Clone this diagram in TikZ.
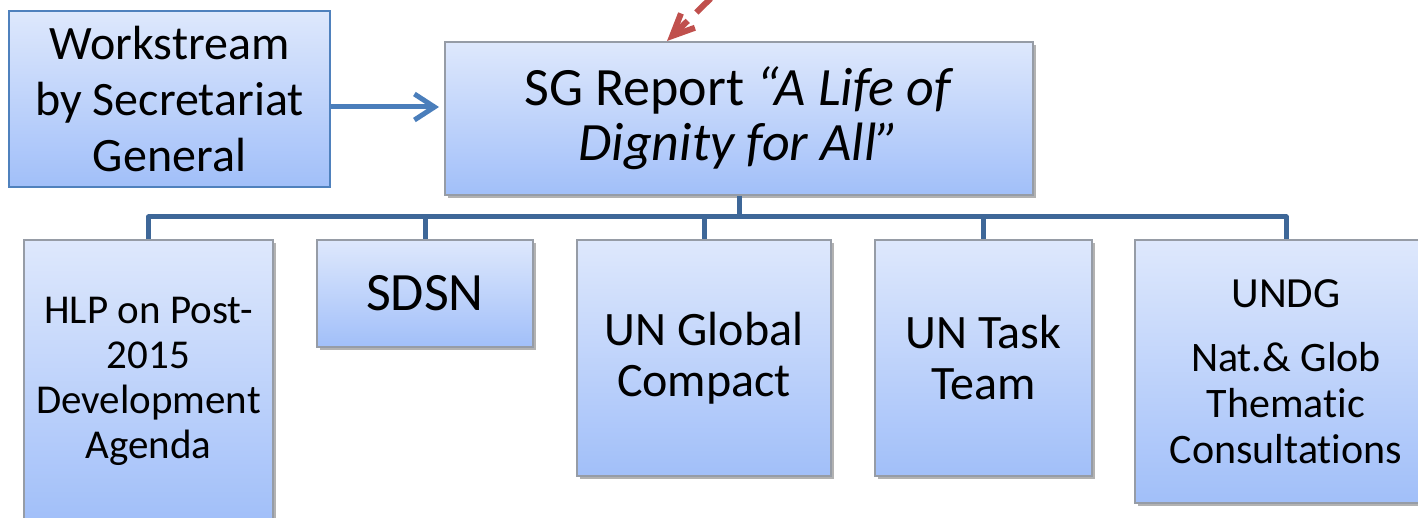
\documentclass[tikz,border=0pt]{standalone}
\usepackage{fontspec}
\setmainfont{Carlito}[Ligatures={NoCommon}]
\usetikzlibrary{arrows.meta,shadows}
\definecolor{boxtop}{RGB}{222,232,252}
\definecolor{boxbot}{RGB}{161,191,249}
\definecolor{boxedge}{RGB}{150,156,166}
\definecolor{wsedge}{RGB}{79,129,189}
\definecolor{treeblue}{RGB}{62,103,152}
\definecolor{arrowblue}{RGB}{74,126,187}
\definecolor{arrowred}{RGB}{192,80,77}
\newcommand\fsz[2]{\fontsize{#1}{#2}\selectfont}
\tikzset{
 box/.style={draw=boxedge, line width=1pt, top color=boxtop, bottom color=boxbot,
   align=center, inner sep=0pt,
   drop shadow={shadow xshift=1.5pt, shadow yshift=-1.5pt, opacity=0.3, fill=black}},
 wsbox/.style={draw=wsedge, line width=0.9pt, top color=boxtop, bottom color=boxbot,
   align=center, inner sep=0pt},
 tree/.style={draw=treeblue, line width=2.5pt, line join=round},
 feed/.style={draw=arrowblue, line width=2.5pt, -{Straight Barb[length=10pt,width=13pt]}},
 redarrow/.style={draw=arrowred, line width=3pt, dash pattern=on 10pt off 6pt, dash phase=8pt,
   -{Straight Barb[length=11pt,width=10pt]}},
}
\begin{document}
\begin{tikzpicture}[x=0.5pt,y=-0.5pt]
\useasboundingbox (0,0) rectangle (1418,518);
\clip (0,0) rectangle (1418,518);
\coordinate (bus) at (0,217);
\coordinate (feedy) at (0,107);
\coordinate (redsrc) at (745,-35);

\node[wsbox, minimum width=160.5pt, minimum height=88pt, font=\fsz{24}{28}] (ws) at (169.5,99)
  {Workstream\\by Secretariat\\General};
\node[box, minimum width=294pt, minimum height=76.5pt, font=\fsz{27}{27.5}] (sg) at (739,118.5)
  {SG Report \textit{“A Life of}\\\textit{Dignity for All”}};

\node[box, minimum width=124.5pt, minimum height=141pt, font=\fsz{20.5}{22.5}] (hlp) at (148.5,381)
  {HLP on Post-\\2015\\Development\\Agenda};
\node[box, minimum width=108pt, minimum height=53.5pt, font=\fsz{27}{28}] (sdsn) at (425,293.5)
  {SDSN};
\node[box, minimum width=127pt, minimum height=118pt, font=\fsz{24}{25.5}] (ungc) at (704,358)
  {UN Global\\Compact};
\node[box, minimum width=108.5pt, minimum height=118pt, font=\fsz{24}{25.5}] (untt) at (983.5,358)
  {UN Task\\Team};
\node[box, minimum width=151pt, minimum height=131.5pt, font=\fsz{21}{23}] (undg) at (1286,371.5)
  {{\fsz{21.5}{23}UNDG}\\[9pt]Nat.\& Glob\\Thematic\\Consultations};

\draw[tree] (hlp.north) -- (hlp.north |- bus) -| (undg.north);
\draw[tree] (sg.south) -- (sg.south |- bus);
\draw[tree] (sdsn.north) -- (sdsn.north |- bus);
\draw[tree] (ungc.north) -- (ungc.north |- bus);
\draw[tree] (untt.north) -- (untt.north |- bus);

\draw[feed, shorten >=2.5pt] (ws.east |- feedy) -- (sg.west |- feedy);
\draw[redarrow] (redsrc) -- ([xshift=-36pt]sg.north);
\end{tikzpicture}
\end{document}
